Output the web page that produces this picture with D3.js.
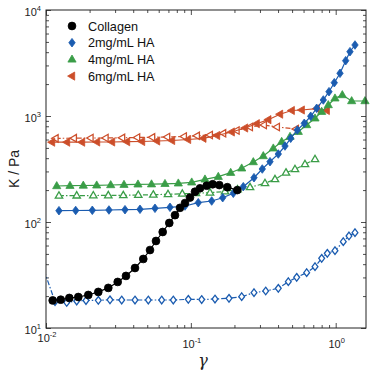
<!DOCTYPE html>
<html>
<head>
<meta charset="utf-8">
<script src="https://cdn.jsdelivr.net/npm/d3@7"></script>
<style>
  html, body { margin: 0; padding: 0; background: #fff; }
  svg { display: block; font-family: "Liberation Sans", Arial, Helvetica, sans-serif; }
</style>
</head>
<body>
<svg id="chart" width="374" height="376"></svg>
<script>
// strain values (gamma) and modulus K (Pa)
const collagenX = [0.01112, 0.01264, 0.01449, 0.01671, 0.01959, 0.02297, 0.02692, 0.03126, 0.03566, 0.04115,
    0.04695, 0.05224, 0.05746, 0.06392, 0.07098, 0.07772, 0.08415, 0.09113, 0.09865, 0.1068,
    0.1156, 0.1286, 0.1415, 0.1572, 0.1785, 0.2093];
const collagenK = [18.2, 18.5, 19.2, 19.6, 20.5, 21.9, 23.9, 27.2, 31.0, 36.8,
    44.8, 54.4, 66.2, 80.5, 97.9, 116, 136, 151, 170, 193,
    208, 220, 227, 223, 213, 200];

const ha2X = [0.01229, 0.01603, 0.02088, 0.02721, 0.0351, 0.04456, 0.05655, 0.07179, 0.09113, 0.1125,
    0.1393, 0.1659, 0.1964, 0.2302, 0.2729, 0.3113, 0.3519, 0.4015, 0.4467, 0.4891,
    0.5431, 0.6069, 0.6721, 0.7392, 0.8214, 0.8989, 0.9779, 1.071, 1.172, 1.255, 1.359];
const ha2K = [127.8, 128.4, 128.9, 129.8, 130.6, 131.8, 134.7, 137.6, 141.6, 152.1,
    157.8, 169.5, 186.6, 215.3, 261.8, 316.2, 370.7, 438, 521, 616,
    738, 853, 994, 1182, 1416, 1695, 2062, 2528, 3324, 4043, 4676];

const ha2OpenX = [0.0097, 0.01154, 0.01390, 0.01629, 0.01888, 0.02297, 0.02765, 0.03331, 0.04115, 0.05085,
    0.06291, 0.07563, 0.09603, 0.1188, 0.1468, 0.1834, 0.2244, 0.2729, 0.3286, 0.4015,
    0.4709, 0.5380, 0.6305, 0.7198, 0.8003, 0.8750, 0.9888, 1.128, 1.235, 1.359];
const ha2OpenK = [34.9, 17.7, 17.4, 17.97, 18.17, 18.25, 18.45, 18.37, 18.37, 18.37,
    18.37, 18.37, 18.65, 18.57, 18.77, 19.06, 19.74, 21.53, 22.34, 23.69,
    27.34, 30.08, 33.24, 37.87, 45.45, 50.67, 53.6, 65.2, 73.8, 79.3];

const ha4X = [0.01186, 0.01464, 0.01809, 0.02239, 0.02797, 0.03455, 0.04316, 0.05351, 0.06629, 0.08193,
    0.1014, 0.1252, 0.1547, 0.1884, 0.2244, 0.2699, 0.3164, 0.3709, 0.4238, 0.4837,
    0.5518, 0.6305, 0.7198, 0.8003, 0.8890, 0.9888, 1.111, 1.289, 1.593];
const ha4K = [218.6, 220, 221, 221.9, 223.4, 224.9, 226.8, 227.3, 229.3, 231.8,
    236.9, 252.8, 267.6, 291.9, 321.1, 368.1, 419.4, 495.8, 572.1, 637.8,
    711.1, 822.6, 951.3, 1098, 1270, 1469, 1578, 1385, 1385];

const ha4OpenX = [0.01229, 0.01629, 0.02121, 0.02692, 0.03417, 0.04337, 0.05505, 0.06955, 0.0873, 0.1085,
    0.1356, 0.1721, 0.2100, 0.2562, 0.3250, 0.3810, 0.4538, 0.5236, 0.6138, 0.7198];
const ha4OpenK = [177.0, 177.4, 177.8, 178.2, 178.6, 179.8, 181.0, 182.6, 184.5, 186.6,
    189.0, 194.0, 202.6, 212.5, 231.8, 252.8, 291.9, 314.3, 350.3, 390.5];

const ha6X = [0.01100, 0.01396, 0.01772, 0.02250, 0.02855, 0.03624, 0.04601, 0.05839, 0.07410, 0.09556,
    0.1219, 0.1515, 0.1914, 0.2365, 0.2848, 0.3424, 0.4125, 0.4969, 0.5825, 0.7392, 0.8669];
const ha6K = [566, 566, 566, 568.6, 568.6, 572.1, 574.6, 581, 587.3, 600.2,
    616, 654.6, 706.5, 770.6, 846, 923, 1040, 1127, 1139, 1172, 1127];

const ha6OpenX = [0.01167, 0.01561, 0.02035, 0.02584, 0.03362, 0.04268, 0.05418, 0.06877, 0.08969, 0.1103,
    0.1356, 0.1675, 0.2073, 0.2562, 0.3199, 0.3934, 0.5320];
const ha6OpenK = [616, 617.4, 620.1, 620.1, 622.8, 627, 629.7, 633.8, 640.7, 650.5,
    662, 686.9, 729.9, 787.5, 822.6, 787.5, 754.2];

const legendLabels = ["Collagen", "2mg/mL HA", "4mg/mL HA", "6mg/mL HA"];
const xTicks = [0.01, 0.1, 1];
const xTickExp = ["-2", "-1", "0"];
const yTicks = [10, 100, 1000, 10000];
const yTickExp = ["1", "2", "3", "4"];

const colors = {
    black: "#000000",
    blue: "#1b5cb0",
    green: "#3a9d47",
    red: "#cc4e2a"
};

// marker shapes
const markerPath = {
    circle: "M3.9,0A3.9,3.9 0 1,1 -3.9,0A3.9,3.9 0 1,1 3.9,0Z",
    diamond: "M0,-4.3L3.2,0L0,4.3L-3.2,0Z",
    triUp: "M0,-4.4L4.1,2.7L-4.1,2.7Z",
    triLeft: "M-4.4,0L2.7,-4.1L2.7,4.1Z",
    diamondOpen: "M0,-3.8L2.9,0L0,3.8L-2.9,0Z",
    triUpOpen: "M0,-4L3.7,2.4L-3.7,2.4Z",
    triLeftOpen: "M-4,0L2.4,-3.7L2.4,3.7Z"
};

const series = [
    { x: ha6OpenX, y: ha6OpenK, color: colors.red, shape: "triLeftOpen", open: true },
    { x: ha4OpenX, y: ha4OpenK, color: colors.green, shape: "triUpOpen", open: true },
    { x: ha2OpenX, y: ha2OpenK, color: colors.blue, shape: "diamondOpen", open: true },
    { x: ha6X, y: ha6K, color: colors.red, shape: "triLeft", open: false },
    { x: ha4X, y: ha4K, color: colors.green, shape: "triUp", open: false },
    { x: ha2X, y: ha2K, color: colors.blue, shape: "diamond", open: false },
    { x: collagenX, y: collagenK, color: colors.black, shape: "circle", open: false }
];

const legendItems = [
    { color: colors.black, shape: "circle" },
    { color: colors.blue, shape: "diamond" },
    { color: colors.green, shape: "triUp" },
    { color: colors.red, shape: "triLeft" }
];

const margin = { left: 46, right: 8, top: 10, bottom: 48 };
const width = 374, height = 376;

const svg = d3.select("#chart");

const x = d3.scaleLog()
    .domain([0.01, 1.619])
    .range([margin.left, width - margin.right]);

const y = d3.scaleLog()
    .domain([10, 10000])
    .range([height - margin.bottom, margin.top]);

const [x0, x1] = x.range();
const [y0, y1] = y.range();

// clip for the lines
svg.append("defs").append("clipPath")
    .attr("id", "plot-clip")
    .append("rect")
    .attr("x", x0).attr("y", y1)
    .attr("width", x1 - x0).attr("height", y0 - y1);

// minor tick values
const xMinor = [];
[0.01, 0.1, 1].forEach(d => {
    for (let k = 2; k <= 9; k++) if (d * k <= 1.619) xMinor.push(d * k);
});
const yMinor = [];
[10, 100, 1000].forEach(d => {
    for (let k = 2; k <= 9; k++) yMinor.push(d * k);
});

// ticks on all four sides, pointing inward
function tickAxis(axisFn, scale, values, size, transform) {
    const g = svg.append("g")
        .attr("transform", transform)
        .call(axisFn(scale).tickValues(values).tickSize(-size).tickFormat(""));
    g.select(".domain").remove();
    g.selectAll("line").attr("stroke", "#222").attr("stroke-width", 0.8);
}

tickAxis(d3.axisBottom, x, xTicks, 5, `translate(0,${y0})`);
tickAxis(d3.axisBottom, x, xMinor, 3, `translate(0,${y0})`);
tickAxis(d3.axisTop, x, xTicks, 5, `translate(0,${y1})`);
tickAxis(d3.axisTop, x, xMinor, 3, `translate(0,${y1})`);
tickAxis(d3.axisLeft, y, yTicks, 5, `translate(${x0},0)`);
tickAxis(d3.axisLeft, y, yMinor, 3, `translate(${x0},0)`);
tickAxis(d3.axisRight, y, yTicks, 5, `translate(${x1},0)`);
tickAxis(d3.axisRight, y, yMinor, 3, `translate(${x1},0)`);

// tick labels with superscripts
yTicks.forEach((d, i) => {
    const t = svg.append("text")
        .attr("x", x0 - 5)
        .attr("y", y(d) + 5.5)
        .attr("text-anchor", "end")
        .attr("font-size", 11)
        .attr("fill", "#222");
    t.append("tspan").text("10");
    t.append("tspan").attr("dy", -5).attr("font-size", 7.5).text(yTickExp[i]);
});

xTicks.forEach((d, i) => {
    const t = svg.append("text")
        .attr("x", x(d) + 1)
        .attr("y", i === 0 ? y0 + 14 : y0 + 20)
        .attr("text-anchor", "middle")
        .attr("font-size", 11)
        .attr("fill", "#222");
    t.append("tspan").text("10");
    t.append("tspan").attr("dy", -5).attr("font-size", 7.5).text(xTickExp[i]);
});

// axis titles
svg.append("text")
    .attr("transform", `translate(19,${(y0 + y1) / 2}) rotate(-90)`)
    .attr("text-anchor", "middle")
    .attr("font-size", 14)
    .attr("fill", "#222")
    .text("K / Pa");

svg.append("text")
    .attr("x", (x0 + x1) / 2 - 3)
    .attr("y", 366)
    .attr("text-anchor", "middle")
    .attr("font-size", 16)
    .attr("font-style", "italic")
    .attr("font-family", "'DejaVu Serif', 'Liberation Serif', serif")
    .attr("fill", "#222")
    .text("\u03b3");

// data lines and markers
const line = d3.line()
    .x(d => x(d[0]))
    .y(d => y(d[1]));

const [xMin] = x.domain();

series.forEach(s => {
    const pts = s.x.map((v, i) => [v, s.y[i]]);

    svg.append("path")
        .datum(pts)
        .attr("clip-path", "url(#plot-clip)")
        .attr("fill", "none")
        .attr("stroke", s.color)
        .attr("stroke-width", 1.2)
        .attr("stroke-dasharray", s.open ? "5,2,1.5,2" : null)
        .attr("d", line);

    // markers only for points inside the axes range
    svg.append("g")
        .selectAll("path")
        .data(pts.filter(d => d[0] >= xMin))
        .join("path")
        .attr("transform", d => `translate(${x(d[0])},${y(d[1])})`)
        .attr("d", markerPath[s.shape])
        .attr("fill", s.open ? "#fff" : s.color)
        .attr("stroke", s.color)
        .attr("stroke-width", s.open ? 1.3 : 0.8);
});

// frame
svg.append("rect")
    .attr("x", x0).attr("y", y1)
    .attr("width", x1 - x0).attr("height", y0 - y1)
    .attr("fill", "none")
    .attr("stroke", "#222")
    .attr("stroke-width", 1);

// legend
const legend = svg.append("g");
legendLabels.forEach((label, i) => {
    const ly = 26 + i * 16.7;
    legend.append("path")
        .attr("transform", `translate(72,${ly})`)
        .attr("d", markerPath[legendItems[i].shape])
        .attr("fill", legendItems[i].color)
        .attr("stroke", legendItems[i].color)
        .attr("stroke-width", 0.8);
    legend.append("text")
        .attr("x", 88)
        .attr("y", ly + 4.5)
        .attr("font-size", 12.7)
        .attr("fill", "#111")
        .text(label);
});
</script>
</body>
</html>
